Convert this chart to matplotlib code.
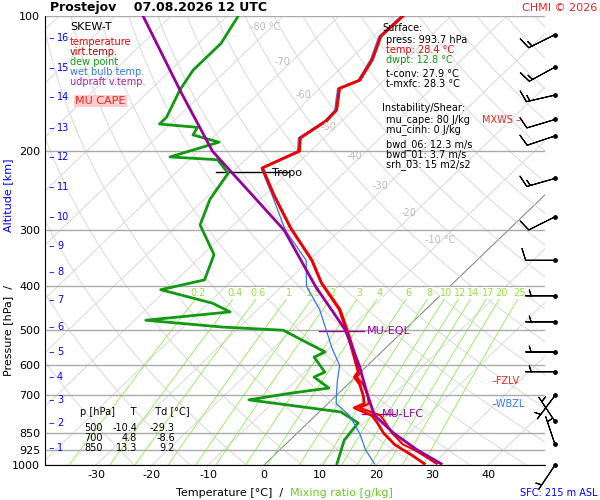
import numpy as np
import matplotlib
matplotlib.use("Agg")
import matplotlib.pyplot as plt

SK = 83.4
def X(T, p):
    return np.asarray(T) + SK*np.log10(1000.0/np.asarray(p))

# ---- data ----
t_p = [993.7, 950, 925, 900, 850, 800, 775, 746, 730, 700, 660, 637, 620, 600, 550, 500, 450, 393, 350, 296, 250, 218, 200, 187, 171, 162, 145, 139, 125, 111, 100]
t_T = [28.4, 24.5, 22.0, 19.5, 15.5, 12.0, 10.0, 5.5, 6.5, 4.8, 2.0, -0.2, -0.5, -2.0, -6.0, -10.4, -15.5, -23.6, -29.5, -39.4, -48.5, -55.5, -52.0, -54.3, -52.8, -53.0, -56.5, -54.4, -56.0, -58.8, -58.6]
tv_T = [30.6, 26.5, 24.0, 21.0, 17.0, 13.5, 11.5, 6.5, 7.3, 5.6, 2.6, 0.2, 0.0, -1.6, -5.7, -10.2, -15.3, -23.5, -29.4, -39.3, -48.4, -55.4, -51.9, -54.2, -52.7, -52.9, -56.4, -54.3, -55.9, -58.7, -58.5]
td_p = [993.7, 880, 806, 762, 716, 692, 674, 637, 621, 575, 560, 527, 501, 493, 476, 456, 436, 407, 387, 340, 292, 256, 224, 209, 206, 191, 184, 177, 174, 168, 146, 132, 115, 100]
td_T = [12.8, 9.7, 9.0, 3.9, -14.8, -8.6, -2.7, -7.4, -6.4, -11.1, -10.1, -16.4, -21.6, -33.0, -48.0, -34.5, -39.3, -51.0, -45.0, -48.0, -56.0, -59.0, -60.6, -65.0, -74.0, -68.0, -74.0, -74.6, -82.0, -82.0, -84.7, -86.0, -86.0, -88.0]
wb_p = [993.7, 925, 850, 775, 730, 700, 650, 600, 550, 500, 450, 400, 350, 300, 250, 218, 200, 187, 171, 162, 145, 139, 125, 111, 100]
wb_T = [19.5, 15.3, 11.2, 6.0, 1.5, 0.0, -2.5, -5.0, -9.5, -14.0, -19.0, -25.6, -30.5, -39.8, -48.8, -55.7, -52.3, -54.6, -53.1, -53.3, -56.8, -54.7, -56.3, -59.1, -58.9]
pc_p = [993.7, 925, 850, 775, 700, 600, 500, 400, 300, 200, 148, 100]
pc_T = [31.4, 24.5, 17.3, 10.5, 5.6, -1.5, -10.6, -24.0, -40.0, -67.5, -84.0, -105.0]
km_lab = [1, 2, 3, 4, 5, 6, 7, 8, 9, 10, 11, 12, 13, 14, 15, 16]
km_y = [448, 423, 400, 377, 352, 327, 300, 272, 246, 217, 187, 157, 128, 97, 68, 38]
wind_p = [110, 130, 150, 170, 185, 230, 280, 350, 420, 480, 560, 620, 700, 800, 900, 1000]
wind_u = [12, 11, 13, 10, 9, 14, 10, 8, 7, 7, 7, 7, 3, 2, 1, 2]
wind_v = [6, 6, 3, 3, 3, 4, 5, 0, 0, 0, 0, 0, 4, -3, -3, 3]
p_lines = [100, 200, 300, 400, 500, 600, 700, 850, 925, 1000]
mix_w = [0.2, 0.4, 0.6, 1, 1.5, 2, 3, 4, 6, 8, 10, 12, 14, 17, 20, 25]
mix_lab = ["0.2", "0.4", "0.6", "1", "1.5", "2", "3", "4", "6", "8", "10", "12", "14", "17", "20", "25"]
iso_lab = ["-80 °C", "-70", "-60", "-50", "-40", "-30", "-20", "-10 °C"]
iso_xy = [(265, 27), (282, 62), (303, 95), (328, 127), (354, 156), (380, 186), (408, 213), (440, 240)]

fig = plt.figure(figsize=(6, 5), dpi=100)
ax = fig.add_axes([45/600, 35/500, 500/600, 449/500])
ax.set_yscale('log')
ax.set_ylim(1000, 100)
ax.set_xlim((45-264)/5.6, (545-264)/5.6)
for s in ['top', 'right']:
    ax.spines[s].set_visible(False)

pp = np.logspace(np.log10(1000), 2, 200)
for T in range(-160, 60, 10):
    ax.plot(X(T, pp), pp, color='#dddddd', lw=0.8, zorder=1)
ax.plot(X(0, pp), pp, color='#888888', lw=0.7, zorder=1)
for th in range(250, 480, 10):
    TT = th*(pp/1000)**0.286 - 273.15
    ax.plot(X(TT, pp), pp, color='#dddddd', lw=0.8, zorder=1)
pm = np.logspace(np.log10(1000), np.log10(420), 60)
for w, lab in zip(mix_w, mix_lab):
    e = w*pm/(622+w)
    l = np.log(e/6.112)
    Td = 243.5*l/(17.67-l)
    ax.plot(X(Td, pm), pm, color='#99ee66', lw=0.7, zorder=1)
    ax.text(X(Td[-1], 420), 414, lab, color='#99dd44', fontsize=7, ha='center', va='center',
            bbox=dict(fc='white', ec='none', pad=0.5))
for p in p_lines:
    ax.axhline(p, color='#aaaaaa', lw=1, zorder=1)

def ft(x, y, s, **kw):
    fig.text(x/600, 1-y/500, s, **kw)

for s, (x, y) in zip(iso_lab, iso_xy):
    ft(x, y, s, color='#bbbbbb', fontsize=7, ha='center', va='center')

ax.set_yticks(p_lines)
ax.set_yticklabels([str(p) for p in p_lines], fontsize=8)
ax.yaxis.set_minor_locator(matplotlib.ticker.NullLocator())
ax.set_xticks(range(-30, 50, 10))
ax.set_xticklabels([str(t) for t in range(-30, 50, 10)], fontsize=8)
ax.tick_params(length=0)

pfill = np.array(t_p[6:16])
ax.fill_betweenx(pfill, X(np.interp(np.log(pfill), np.log(pc_p[::-1]), pc_T[::-1]), pfill),
                 X(np.array(tv_T[6:16]), pfill), color='#ffcccc', zorder=2)

ax.plot(X(td_T, td_p), td_p, color='#119911', lw=2, zorder=3)
ax.plot(X(wb_T, wb_p), wb_p, color='#3377ee', lw=0.9, zorder=3)
ax.plot(X(tv_T, t_p), t_p, color='#ee0000', lw=1.5, zorder=4)
ax.plot(X(t_T, t_p), t_p, color='#ee0000', lw=2, zorder=4)
ax.plot(X(pc_T, pc_p), pc_p, color='#990099', lw=2, zorder=5)

ax.plot([X(-63, 222), X(-50, 222)], [222, 222], color='black', lw=1)
ax.text(X(-54, 222)+1, 224, 'Tropo', fontsize=8, va='center')
ax.plot([X(-15, 503), X(-7, 503)], [503, 503], color='#990099', lw=1)
ax.text(X(-6.5, 503), 503, 'MU-EQL', color='#990099', fontsize=8, va='center')
ax.plot([X(8, 770), X(14, 770)], [770, 770], color='#990099', lw=1)
ax.text(X(11.5, 770), 770, 'MU-LFC', color='#990099', fontsize=8, va='center')

bx = (555-264)/5.6
ax.barbs([bx]*len(wind_p), wind_p, wind_u, wind_v,
         length=6.5, linewidth=0.8, clip_on=False, zorder=6)
ax.scatter([bx]*len(wind_p), wind_p, s=6, color='black', clip_on=False, zorder=7)

for k, y in zip(km_lab, km_y):
    ft(48, y, '\u2013', color='blue', fontsize=8, va='center')
    ft(57, y, str(k), color='blue', fontsize=7, va='center')

ft(50, 8, 'Prostejov    07.08.2026 12 UTC', fontsize=9, fontweight='bold', va='center')
ft(597, 8, 'CHMI © 2026', color='#ee2222', fontsize=8, ha='right', va='center')
ft(70, 27, 'SKEW-T', fontsize=8, va='center')
for i, (s, c) in enumerate([('temperature', '#ee0000'), ('virt.temp.', '#aa0000'), ('dew point', '#119911'), ('wet bulb temp.', '#3377ee'), ('udpraft v.temp.', '#aa22aa')]):
    ft(70, 42+i*10, s, color=c, fontsize=7, va='center')
ft(75, 101, 'MU CAPE', color='#ee2222', fontsize=8, va='center', bbox=dict(fc='#ffcccc', ec='none', pad=1))
ft(382, 28, 'Surface:', fontsize=7, va='center')
for i, (s, c) in enumerate([('press: 993.7 hPa', 'black'), ('temp: 28.4 °C', '#ee0000'), ('dwpt: 12.8 °C', '#119911')]):
    ft(386, 40+i*10, s, color=c, fontsize=7, va='center')
ft(386, 74, 't-conv: 27.9 °C', fontsize=7, va='center')
ft(386, 84, 't-mxfc: 28.3 °C', fontsize=7, va='center')
ft(382, 108, 'Instability/Shear:', fontsize=7, va='center')
for i, s in enumerate(['mu_cape: 80 J/kg', 'mu_cinh: 0 J/kg']):
    ft(386, 120+i*10, s, fontsize=7, va='center')
for i, s in enumerate(['bwd_06: 12.3 m/s', 'bwd_01: 3.7 m/s', 'srh_03: 15 m2/s2']):
    ft(386, 145+i*10, s, fontsize=7, va='center')
ft(482, 120, 'MXWS \u2013', color='#ee2222', fontsize=7, va='center')
ft(492, 381, '\u2013FZLV', color='#ee2222', fontsize=7, va='center')
ft(492, 404, '\u2013WBZL', color='#3377ee', fontsize=7, va='center')
ft(80, 412, 'p [hPa]     T      Td [°C]', fontsize=7, va='center')
for i, row in enumerate([('500', '-10.4', '-29.3'), ('700', '4.8', '-8.6'), ('850', '13.3', '9.2')]):
    y = 428+i*10
    ft(103, y, row[0], fontsize=7, ha='right', va='center')
    ft(137, y, row[1], fontsize=7, ha='right', va='center')
    ft(175, y, row[2], fontsize=7, ha='right', va='center')
ft(290, 493, 'Temperature [°C]  /  ', fontsize=8, ha='right', va='center')
ft(290, 493, 'Mixing ratio [g/kg]', color='#66cc22', fontsize=8, va='center')
ft(597, 493, 'SFC: 215 m ASL', color='blue', fontsize=7, ha='right', va='center')
ft(8, 195, 'Altitude [km]', color='blue', fontsize=8, rotation=90, ha='center', va='center')
ft(8, 330, 'Pressure [hPa]  /', fontsize=8, rotation=90, ha='center', va='center')

fig.savefig('out.png', dpi=100)
